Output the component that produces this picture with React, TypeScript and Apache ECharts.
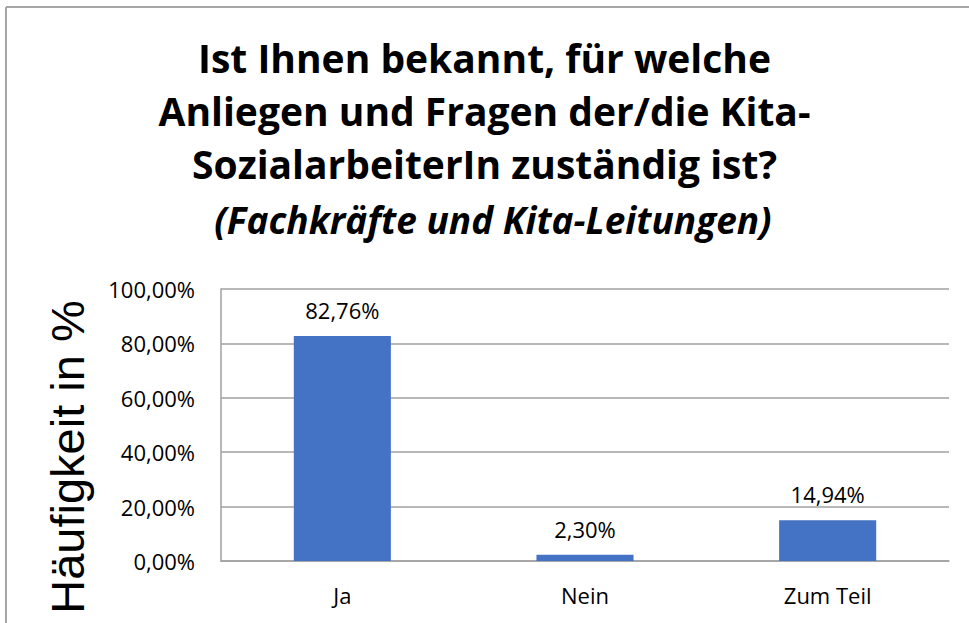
import React, { useEffect, useRef } from "react";
import * as echarts from "echarts";

const categories = ["Ja", "Nein", "Zum Teil"];
const values = [82.76, 2.3, 14.94];
const titleLines = [
  "Ist Ihnen bekannt, für welche",
  "Anliegen und Fragen der/die Kita-",
  "SozialarbeiterIn zuständig ist?",
];
const subtitle = "(Fachkräfte und Kita-Leitungen)";
const yTitle = "Häufigkeit in %";

const fmt = (v: number) => v.toFixed(2).replace(".", ",") + "%";

export default function App() {
  const ref = useRef<HTMLDivElement>(null);
  useEffect(() => {
    if (!ref.current) return;
    const chart = echarts.init(ref.current, undefined, { renderer: "svg" });
    chart.setOption({
      animation: false,
      backgroundColor: "#ffffff",
      title: [
        {
          text: titleLines.join("\n"),
          left: "center",
          top: 26,
          textStyle: {
            fontFamily: "Open Sans",
            fontWeight: "bold",
            fontSize: 39,
            lineHeight: 53,
            color: "#000000",
          },
        },
        {
          text: subtitle,
          left: 488,
          textAlign: "center",
          top: 187,
          textStyle: {
            fontFamily: "Open Sans",
            fontWeight: "bold",
            fontStyle: "italic",
            fontSize: 37,
            lineHeight: 54,
            color: "#000000",
          },
        },
      ],
      grid: { left: 221, right: 20, top: 289, bottom: 62, containLabel: false },
      xAxis: {
        type: "category",
        data: categories,
        axisLine: { show: true, lineStyle: { color: "#a0a0a0", width: 1.5 } },
        axisTick: { show: false },
        axisLabel: {
          fontFamily: "Open Sans",
          fontSize: 22,
          color: "#000000",
          margin: 23,
        },
      },
      yAxis: {
        type: "value",
        min: 0,
        max: 100,
        interval: 20,
        axisLine: { show: true, lineStyle: { color: "#a0a0a0", width: 1.5 } },
        axisTick: { show: false },
        splitLine: { show: true, lineStyle: { color: "#a0a0a0", width: 1.5 } },
        axisLabel: {
          fontFamily: "Open Sans",
          fontSize: 22,
          color: "#000000",
          margin: 26,
          formatter: (v: number) => fmt(v),
        },
      },
      series: [
        {
          type: "bar",
          data: values,
          barWidth: "40%",
          itemStyle: { color: "#4472C4" },
          label: {
            show: true,
            position: "top",
            distance: 15,
            fontFamily: "Open Sans",
            fontSize: 22,
            color: "#000000",
            formatter: (p: any) => fmt(p.value),
          },
        },
      ],
      graphic: [
        {
          type: "line",
          shape: { x1: 6, y1: 7, x2: 969, y2: 7 },
          style: { stroke: "#a6a6a6", lineWidth: 2 },
        },
        {
          type: "line",
          shape: { x1: 6, y1: 7, x2: 6, y2: 623 },
          style: { stroke: "#a6a6a6", lineWidth: 2 },
        },
        {
          type: "text",
          x: 67,
          y: 457,
          rotation: Math.PI / 2,
          style: {
            text: yTitle,
            fontFamily: "Liberation Sans",
            fontSize: 47,
            fill: "#000000",
            align: "center",
            verticalAlign: "middle",
          },
        },
      ],
    });
    return () => chart.dispose();
  }, []);
  return (
    <div
      ref={ref}
      style={{ position: "fixed", left: 0, top: 0, width: 969, height: 623 }}
    />
  );
}
